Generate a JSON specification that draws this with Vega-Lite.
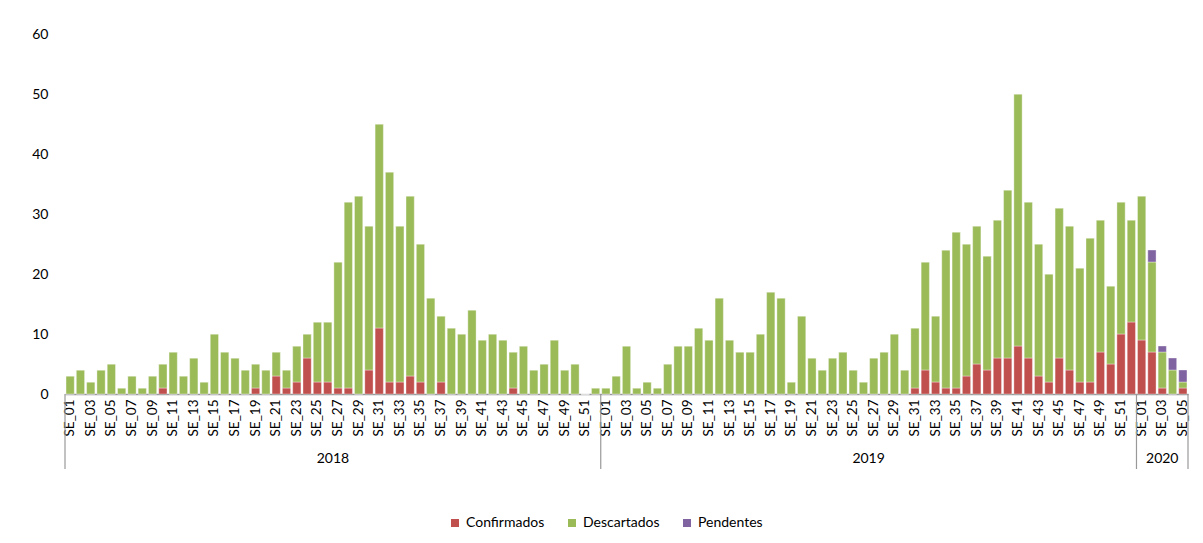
{
  "$schema": "https://vega.github.io/schema/vega-lite/v6.json",
  "width": 1123,
  "height": 360,
  "autosize": {"type": "none"},
  "padding": {"left": 65, "top": 34, "right": 15, "bottom": 149},
  "background": "white",
  "config": {"view": {"stroke": null}, "font": "Lato", "text": {"font": "Lato"}},
  "datasets": {
    "weeks": [
      {"id":"2018-SE_01","Confirmados":0,"Descartados":3,"Pendentes":0},
      {"id":"2018-SE_02","Confirmados":0,"Descartados":4,"Pendentes":0},
      {"id":"2018-SE_03","Confirmados":0,"Descartados":2,"Pendentes":0},
      {"id":"2018-SE_04","Confirmados":0,"Descartados":4,"Pendentes":0},
      {"id":"2018-SE_05","Confirmados":0,"Descartados":5,"Pendentes":0},
      {"id":"2018-SE_06","Confirmados":0,"Descartados":1,"Pendentes":0},
      {"id":"2018-SE_07","Confirmados":0,"Descartados":3,"Pendentes":0},
      {"id":"2018-SE_08","Confirmados":0,"Descartados":1,"Pendentes":0},
      {"id":"2018-SE_09","Confirmados":0,"Descartados":3,"Pendentes":0},
      {"id":"2018-SE_10","Confirmados":1,"Descartados":4,"Pendentes":0},
      {"id":"2018-SE_11","Confirmados":0,"Descartados":7,"Pendentes":0},
      {"id":"2018-SE_12","Confirmados":0,"Descartados":3,"Pendentes":0},
      {"id":"2018-SE_13","Confirmados":0,"Descartados":6,"Pendentes":0},
      {"id":"2018-SE_14","Confirmados":0,"Descartados":2,"Pendentes":0},
      {"id":"2018-SE_15","Confirmados":0,"Descartados":10,"Pendentes":0},
      {"id":"2018-SE_16","Confirmados":0,"Descartados":7,"Pendentes":0},
      {"id":"2018-SE_17","Confirmados":0,"Descartados":6,"Pendentes":0},
      {"id":"2018-SE_18","Confirmados":0,"Descartados":4,"Pendentes":0},
      {"id":"2018-SE_19","Confirmados":1,"Descartados":4,"Pendentes":0},
      {"id":"2018-SE_20","Confirmados":0,"Descartados":4,"Pendentes":0},
      {"id":"2018-SE_21","Confirmados":3,"Descartados":4,"Pendentes":0},
      {"id":"2018-SE_22","Confirmados":1,"Descartados":3,"Pendentes":0},
      {"id":"2018-SE_23","Confirmados":2,"Descartados":6,"Pendentes":0},
      {"id":"2018-SE_24","Confirmados":6,"Descartados":4,"Pendentes":0},
      {"id":"2018-SE_25","Confirmados":2,"Descartados":10,"Pendentes":0},
      {"id":"2018-SE_26","Confirmados":2,"Descartados":10,"Pendentes":0},
      {"id":"2018-SE_27","Confirmados":1,"Descartados":21,"Pendentes":0},
      {"id":"2018-SE_28","Confirmados":1,"Descartados":31,"Pendentes":0},
      {"id":"2018-SE_29","Confirmados":0,"Descartados":33,"Pendentes":0},
      {"id":"2018-SE_30","Confirmados":4,"Descartados":24,"Pendentes":0},
      {"id":"2018-SE_31","Confirmados":11,"Descartados":34,"Pendentes":0},
      {"id":"2018-SE_32","Confirmados":2,"Descartados":35,"Pendentes":0},
      {"id":"2018-SE_33","Confirmados":2,"Descartados":26,"Pendentes":0},
      {"id":"2018-SE_34","Confirmados":3,"Descartados":30,"Pendentes":0},
      {"id":"2018-SE_35","Confirmados":2,"Descartados":23,"Pendentes":0},
      {"id":"2018-SE_36","Confirmados":0,"Descartados":16,"Pendentes":0},
      {"id":"2018-SE_37","Confirmados":2,"Descartados":11,"Pendentes":0},
      {"id":"2018-SE_38","Confirmados":0,"Descartados":11,"Pendentes":0},
      {"id":"2018-SE_39","Confirmados":0,"Descartados":10,"Pendentes":0},
      {"id":"2018-SE_40","Confirmados":0,"Descartados":14,"Pendentes":0},
      {"id":"2018-SE_41","Confirmados":0,"Descartados":9,"Pendentes":0},
      {"id":"2018-SE_42","Confirmados":0,"Descartados":10,"Pendentes":0},
      {"id":"2018-SE_43","Confirmados":0,"Descartados":9,"Pendentes":0},
      {"id":"2018-SE_44","Confirmados":1,"Descartados":6,"Pendentes":0},
      {"id":"2018-SE_45","Confirmados":0,"Descartados":8,"Pendentes":0},
      {"id":"2018-SE_46","Confirmados":0,"Descartados":4,"Pendentes":0},
      {"id":"2018-SE_47","Confirmados":0,"Descartados":5,"Pendentes":0},
      {"id":"2018-SE_48","Confirmados":0,"Descartados":9,"Pendentes":0},
      {"id":"2018-SE_49","Confirmados":0,"Descartados":4,"Pendentes":0},
      {"id":"2018-SE_50","Confirmados":0,"Descartados":5,"Pendentes":0},
      {"id":"2018-SE_51","Confirmados":0,"Descartados":0,"Pendentes":0},
      {"id":"2018-SE_52","Confirmados":0,"Descartados":1,"Pendentes":0},
      {"id":"2019-SE_01","Confirmados":0,"Descartados":1,"Pendentes":0},
      {"id":"2019-SE_02","Confirmados":0,"Descartados":3,"Pendentes":0},
      {"id":"2019-SE_03","Confirmados":0,"Descartados":8,"Pendentes":0},
      {"id":"2019-SE_04","Confirmados":0,"Descartados":1,"Pendentes":0},
      {"id":"2019-SE_05","Confirmados":0,"Descartados":2,"Pendentes":0},
      {"id":"2019-SE_06","Confirmados":0,"Descartados":1,"Pendentes":0},
      {"id":"2019-SE_07","Confirmados":0,"Descartados":5,"Pendentes":0},
      {"id":"2019-SE_08","Confirmados":0,"Descartados":8,"Pendentes":0},
      {"id":"2019-SE_09","Confirmados":0,"Descartados":8,"Pendentes":0},
      {"id":"2019-SE_10","Confirmados":0,"Descartados":11,"Pendentes":0},
      {"id":"2019-SE_11","Confirmados":0,"Descartados":9,"Pendentes":0},
      {"id":"2019-SE_12","Confirmados":0,"Descartados":16,"Pendentes":0},
      {"id":"2019-SE_13","Confirmados":0,"Descartados":9,"Pendentes":0},
      {"id":"2019-SE_14","Confirmados":0,"Descartados":7,"Pendentes":0},
      {"id":"2019-SE_15","Confirmados":0,"Descartados":7,"Pendentes":0},
      {"id":"2019-SE_16","Confirmados":0,"Descartados":10,"Pendentes":0},
      {"id":"2019-SE_17","Confirmados":0,"Descartados":17,"Pendentes":0},
      {"id":"2019-SE_18","Confirmados":0,"Descartados":16,"Pendentes":0},
      {"id":"2019-SE_19","Confirmados":0,"Descartados":2,"Pendentes":0},
      {"id":"2019-SE_20","Confirmados":0,"Descartados":13,"Pendentes":0},
      {"id":"2019-SE_21","Confirmados":0,"Descartados":6,"Pendentes":0},
      {"id":"2019-SE_22","Confirmados":0,"Descartados":4,"Pendentes":0},
      {"id":"2019-SE_23","Confirmados":0,"Descartados":6,"Pendentes":0},
      {"id":"2019-SE_24","Confirmados":0,"Descartados":7,"Pendentes":0},
      {"id":"2019-SE_25","Confirmados":0,"Descartados":4,"Pendentes":0},
      {"id":"2019-SE_26","Confirmados":0,"Descartados":2,"Pendentes":0},
      {"id":"2019-SE_27","Confirmados":0,"Descartados":6,"Pendentes":0},
      {"id":"2019-SE_28","Confirmados":0,"Descartados":7,"Pendentes":0},
      {"id":"2019-SE_29","Confirmados":0,"Descartados":10,"Pendentes":0},
      {"id":"2019-SE_30","Confirmados":0,"Descartados":4,"Pendentes":0},
      {"id":"2019-SE_31","Confirmados":1,"Descartados":10,"Pendentes":0},
      {"id":"2019-SE_32","Confirmados":4,"Descartados":18,"Pendentes":0},
      {"id":"2019-SE_33","Confirmados":2,"Descartados":11,"Pendentes":0},
      {"id":"2019-SE_34","Confirmados":1,"Descartados":23,"Pendentes":0},
      {"id":"2019-SE_35","Confirmados":1,"Descartados":26,"Pendentes":0},
      {"id":"2019-SE_36","Confirmados":3,"Descartados":22,"Pendentes":0},
      {"id":"2019-SE_37","Confirmados":5,"Descartados":23,"Pendentes":0},
      {"id":"2019-SE_38","Confirmados":4,"Descartados":19,"Pendentes":0},
      {"id":"2019-SE_39","Confirmados":6,"Descartados":23,"Pendentes":0},
      {"id":"2019-SE_40","Confirmados":6,"Descartados":28,"Pendentes":0},
      {"id":"2019-SE_41","Confirmados":8,"Descartados":42,"Pendentes":0},
      {"id":"2019-SE_42","Confirmados":6,"Descartados":26,"Pendentes":0},
      {"id":"2019-SE_43","Confirmados":3,"Descartados":22,"Pendentes":0},
      {"id":"2019-SE_44","Confirmados":2,"Descartados":18,"Pendentes":0},
      {"id":"2019-SE_45","Confirmados":6,"Descartados":25,"Pendentes":0},
      {"id":"2019-SE_46","Confirmados":4,"Descartados":24,"Pendentes":0},
      {"id":"2019-SE_47","Confirmados":2,"Descartados":19,"Pendentes":0},
      {"id":"2019-SE_48","Confirmados":2,"Descartados":24,"Pendentes":0},
      {"id":"2019-SE_49","Confirmados":7,"Descartados":22,"Pendentes":0},
      {"id":"2019-SE_50","Confirmados":5,"Descartados":13,"Pendentes":0},
      {"id":"2019-SE_51","Confirmados":10,"Descartados":22,"Pendentes":0},
      {"id":"2019-SE_52","Confirmados":12,"Descartados":17,"Pendentes":0},
      {"id":"2020-SE_01","Confirmados":9,"Descartados":24,"Pendentes":0},
      {"id":"2020-SE_02","Confirmados":7,"Descartados":15,"Pendentes":2},
      {"id":"2020-SE_03","Confirmados":1,"Descartados":6,"Pendentes":1},
      {"id":"2020-SE_04","Confirmados":0,"Descartados":4,"Pendentes":2},
      {"id":"2020-SE_05","Confirmados":1,"Descartados":1,"Pendentes":2}
    ],
    "years": [
      {"ano":"2018","id":"2018-SE_27"},
      {"ano":"2019","id":"2019-SE_27"},
      {"ano":"2020","id":"2020-SE_03"}
    ],
    "starts": [
      {"id":"2018-SE_01"},
      {"id":"2019-SE_01"},
      {"id":"2020-SE_01"}
    ],
    "ends": [
      {"id":"2020-SE_05"}
    ]
  },
  "layer": [
    {
      "data": {"name": "weeks"},
      "transform": [
        {"fold": ["Confirmados", "Descartados", "Pendentes"], "as": ["serie", "valor"]}
      ],
      "mark": {"type": "bar", "stroke": "white", "strokeWidth": 0.5, "strokeOpacity": 0.7},
      "encoding": {
        "x": {
          "field": "id", "type": "nominal",
          "scale": {"paddingInner": 0.2, "paddingOuter": 0.1},
          "axis": {
            "title": null,
            "domain": true, "domainColor": "#999999", "domainWidth": 1.5,
            "ticks": false,
            "labelAngle": 270,
            "labelPadding": 5,
            "labelFontSize": 13.5,
            "labelColor": "#000000",
            "labelOverlap": false,
            "labelExpr": "parseInt(substring(datum.value, 8)) % 2 == 1 ? substring(datum.value, 5) : ''"
          }
        },
        "y": {
          "field": "valor", "type": "quantitative", "aggregate": "sum", "stack": "zero",
          "scale": {"domain": [0, 60], "nice": false},
          "axis": {
            "title": null, "values": [0, 10, 20, 30, 40, 50, 60],
            "grid": false, "domain": false, "ticks": false,
            "labelPadding": 17, "labelFontSize": 14, "labelColor": "#000000"
          }
        },
        "color": {
          "field": "serie", "type": "nominal",
          "scale": {"domain": ["Confirmados", "Descartados", "Pendentes"], "range": ["#C0504D", "#9BBB59", "#8064A2"]},
          "legend": {
            "title": null, "orient": "none", "direction": "horizontal",
            "legendX": 383, "legendY": 482,
            "symbolType": "square", "symbolSize": 64, "symbolStrokeWidth": 0,
            "labelFontSize": 14, "labelColor": "#000000", "labelOffset": 4,
            "columnPadding": 20
          }
        },
        "order": {"field": "serie", "sort": "ascending"}
      }
    },
    {
      "data": {"name": "starts"},
      "mark": {"type": "rule", "color": "#999999", "strokeWidth": 1.2},
      "encoding": {
        "x": {"field": "id", "type": "nominal", "bandPosition": -0.125},
        "y": {"datum": 0, "type": "quantitative"},
        "y2": {"datum": -12.5}
      }
    },
    {
      "data": {"name": "ends"},
      "mark": {"type": "rule", "color": "#999999", "strokeWidth": 1.2},
      "encoding": {
        "x": {"field": "id", "type": "nominal", "bandPosition": 1.125},
        "y": {"datum": 0, "type": "quantitative"},
        "y2": {"datum": -12.5}
      }
    },
    {
      "data": {"name": "years"},
      "transform": [{"filter": "datum.ano != '2020'"}],
      "mark": {"type": "text", "fontSize": 14, "color": "#000000", "baseline": "middle", "align": "center"},
      "encoding": {
        "x": {"field": "id", "type": "nominal", "bandPosition": -0.125},
        "y": {"datum": -10.8, "type": "quantitative"},
        "text": {"field": "ano"}
      }
    },
    {
      "data": {"name": "years"},
      "transform": [{"filter": "datum.ano == '2020'"}],
      "mark": {"type": "text", "fontSize": 14, "color": "#000000", "baseline": "middle", "align": "center"},
      "encoding": {
        "x": {"field": "id", "type": "nominal", "bandPosition": 0.5},
        "y": {"datum": -10.8, "type": "quantitative"},
        "text": {"field": "ano"}
      }
    }
  ]
}
